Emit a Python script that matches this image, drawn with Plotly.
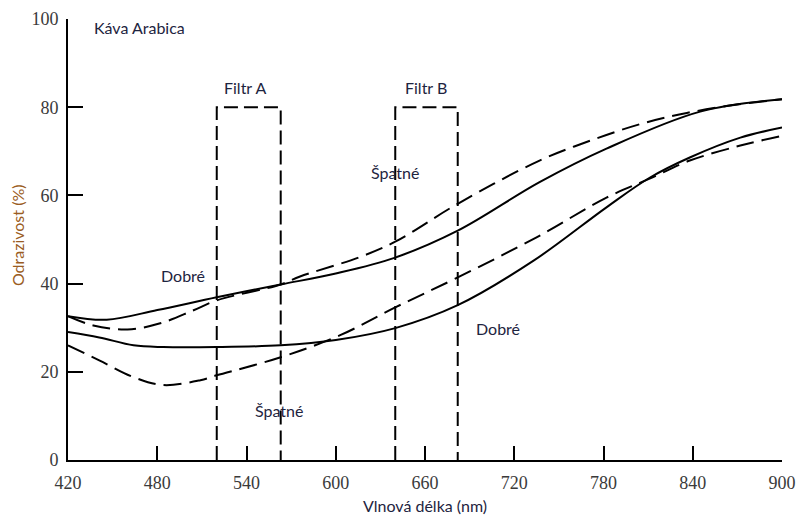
import plotly.graph_objects as go

# Reflectance spectra of Arabica coffee beans (good vs. bad), wavelength in nm
good_upper_nm = [420, 446, 480, 520, 563, 600, 640, 682, 737, 782, 845, 900]
good_upper_pct = [32.6, 31.8, 34.0, 36.9, 39.8, 42.3, 45.9, 52.0, 63.0, 70.6, 79.0, 81.8]

bad_upper_nm = [420, 437, 460, 482, 504, 520, 563, 576, 616, 640, 682, 737, 771, 805, 836, 870, 900]
bad_upper_pct = [32.6, 30.5, 29.6, 31.0, 33.9, 36.2, 39.8, 41.6, 46.0, 49.5, 58.1, 67.9, 72.4, 76.2, 78.7, 80.6, 81.8]

good_lower_nm = [420, 441, 464, 484, 520, 563, 600, 640, 682, 733, 782, 811, 838, 872, 900]
good_lower_pct = [29.0, 27.8, 26.0, 25.6, 25.6, 26.0, 27.2, 29.9, 35.1, 45.2, 57.3, 64.0, 68.6, 73.1, 75.4]

bad_lower_nm = [420, 441, 464, 484, 509, 520, 563, 603, 640, 682, 735, 782, 811, 838, 872, 900]
bad_lower_pct = [26.0, 22.6, 18.8, 17.0, 18.1, 19.2, 23.3, 28.3, 34.6, 41.4, 50.5, 59.5, 63.8, 67.9, 71.3, 73.5]

# Optical filter pass bands (nm) and their drawn height (%)
filter_a = [520, 563]
filter_b = [640, 682]
filter_top = 80

x_ticks = [420, 480, 540, 600, 660, 720, 780, 840, 900]
y_ticks = [0, 20, 40, 60, 80, 100]

LABEL_FONT = dict(family="Lato, 'Open Sans', sans-serif", size=16, color="#1e2440")

fig = go.Figure()

curve_style = dict(mode="lines", line_shape="spline", hoverinfo="skip", showlegend=False)
fig.add_trace(go.Scatter(x=good_upper_nm, y=good_upper_pct,
                         line=dict(color="black", width=2), **curve_style))
fig.add_trace(go.Scatter(x=bad_upper_nm, y=bad_upper_pct,
                         line=dict(color="black", width=2, dash="18px,8px"), **curve_style))
fig.add_trace(go.Scatter(x=good_lower_nm, y=good_lower_pct,
                         line=dict(color="black", width=2), **curve_style))
fig.add_trace(go.Scatter(x=bad_lower_nm, y=bad_lower_pct,
                         line=dict(color="black", width=2, dash="18px,8px"), **curve_style))

# Filter windows as dashed open boxes
for band in (filter_a, filter_b):
    fig.add_trace(go.Scatter(
        x=[band[0], band[0], band[1], band[1]],
        y=[0, filter_top, filter_top, 0],
        mode="lines", line=dict(color="black", width=2, dash="14px,6px"),
        hoverinfo="skip", showlegend=False))

labels = [
    (436, 98, "Káva Arabica", "left"),
    (539, 84.4, "Filtr A", "center"),
    (661, 84.4, "Filtr B", "center"),
    (497, 41.9, "Dobré", "center"),
    (640, 65.2, "Špatné", "center"),
    (709, 29.9, "Dobré", "center"),
    (562, 11.3, "Špatné", "center"),
]
for x, y, text, anchor in labels:
    fig.add_annotation(x=x, y=y, text=text, showarrow=False, xanchor=anchor,
                       yanchor="middle", font=LABEL_FONT)

fig.add_annotation(xref="paper", yref="paper", x=0.5, y=-0.104, text="Vlnová délka (nm)",
                   showarrow=False, xanchor="center", yanchor="middle", font=LABEL_FONT)
fig.add_annotation(xref="paper", yref="paper", x=-0.0714, y=0.51, text="Odrazivost (%)",
                   showarrow=False, textangle=-90, xanchor="center", yanchor="middle",
                   font=dict(family="Lato, 'Open Sans', sans-serif", size=16, color="#9a5c22"))

tick_font = dict(family="'Liberation Serif', 'DejaVu Serif', serif", size=18, color="#3a3a3a")
fig.update_xaxes(range=[420, 900], tickvals=x_ticks, ticks="inside", ticklen=14,
                 tickwidth=1.5, tickcolor="black", showline=True, linecolor="black",
                 linewidth=2, showgrid=False, zeroline=False, tickfont=tick_font,
                 automargin=False, ticklabelstandoff=5)
fig.update_yaxes(range=[0, 100], tickvals=y_ticks, ticks="inside", ticklen=15,
                 tickwidth=1.5, tickcolor="black", showline=True, linecolor="black",
                 linewidth=2, showgrid=False, zeroline=False, tickfont=tick_font,
                 automargin=False, ticklabelstandoff=4)

fig.update_layout(width=799, height=517, margin=dict(l=68, r=17, t=19, b=57),
                  plot_bgcolor="white", paper_bgcolor="white")

fig.write_html("out.html")
